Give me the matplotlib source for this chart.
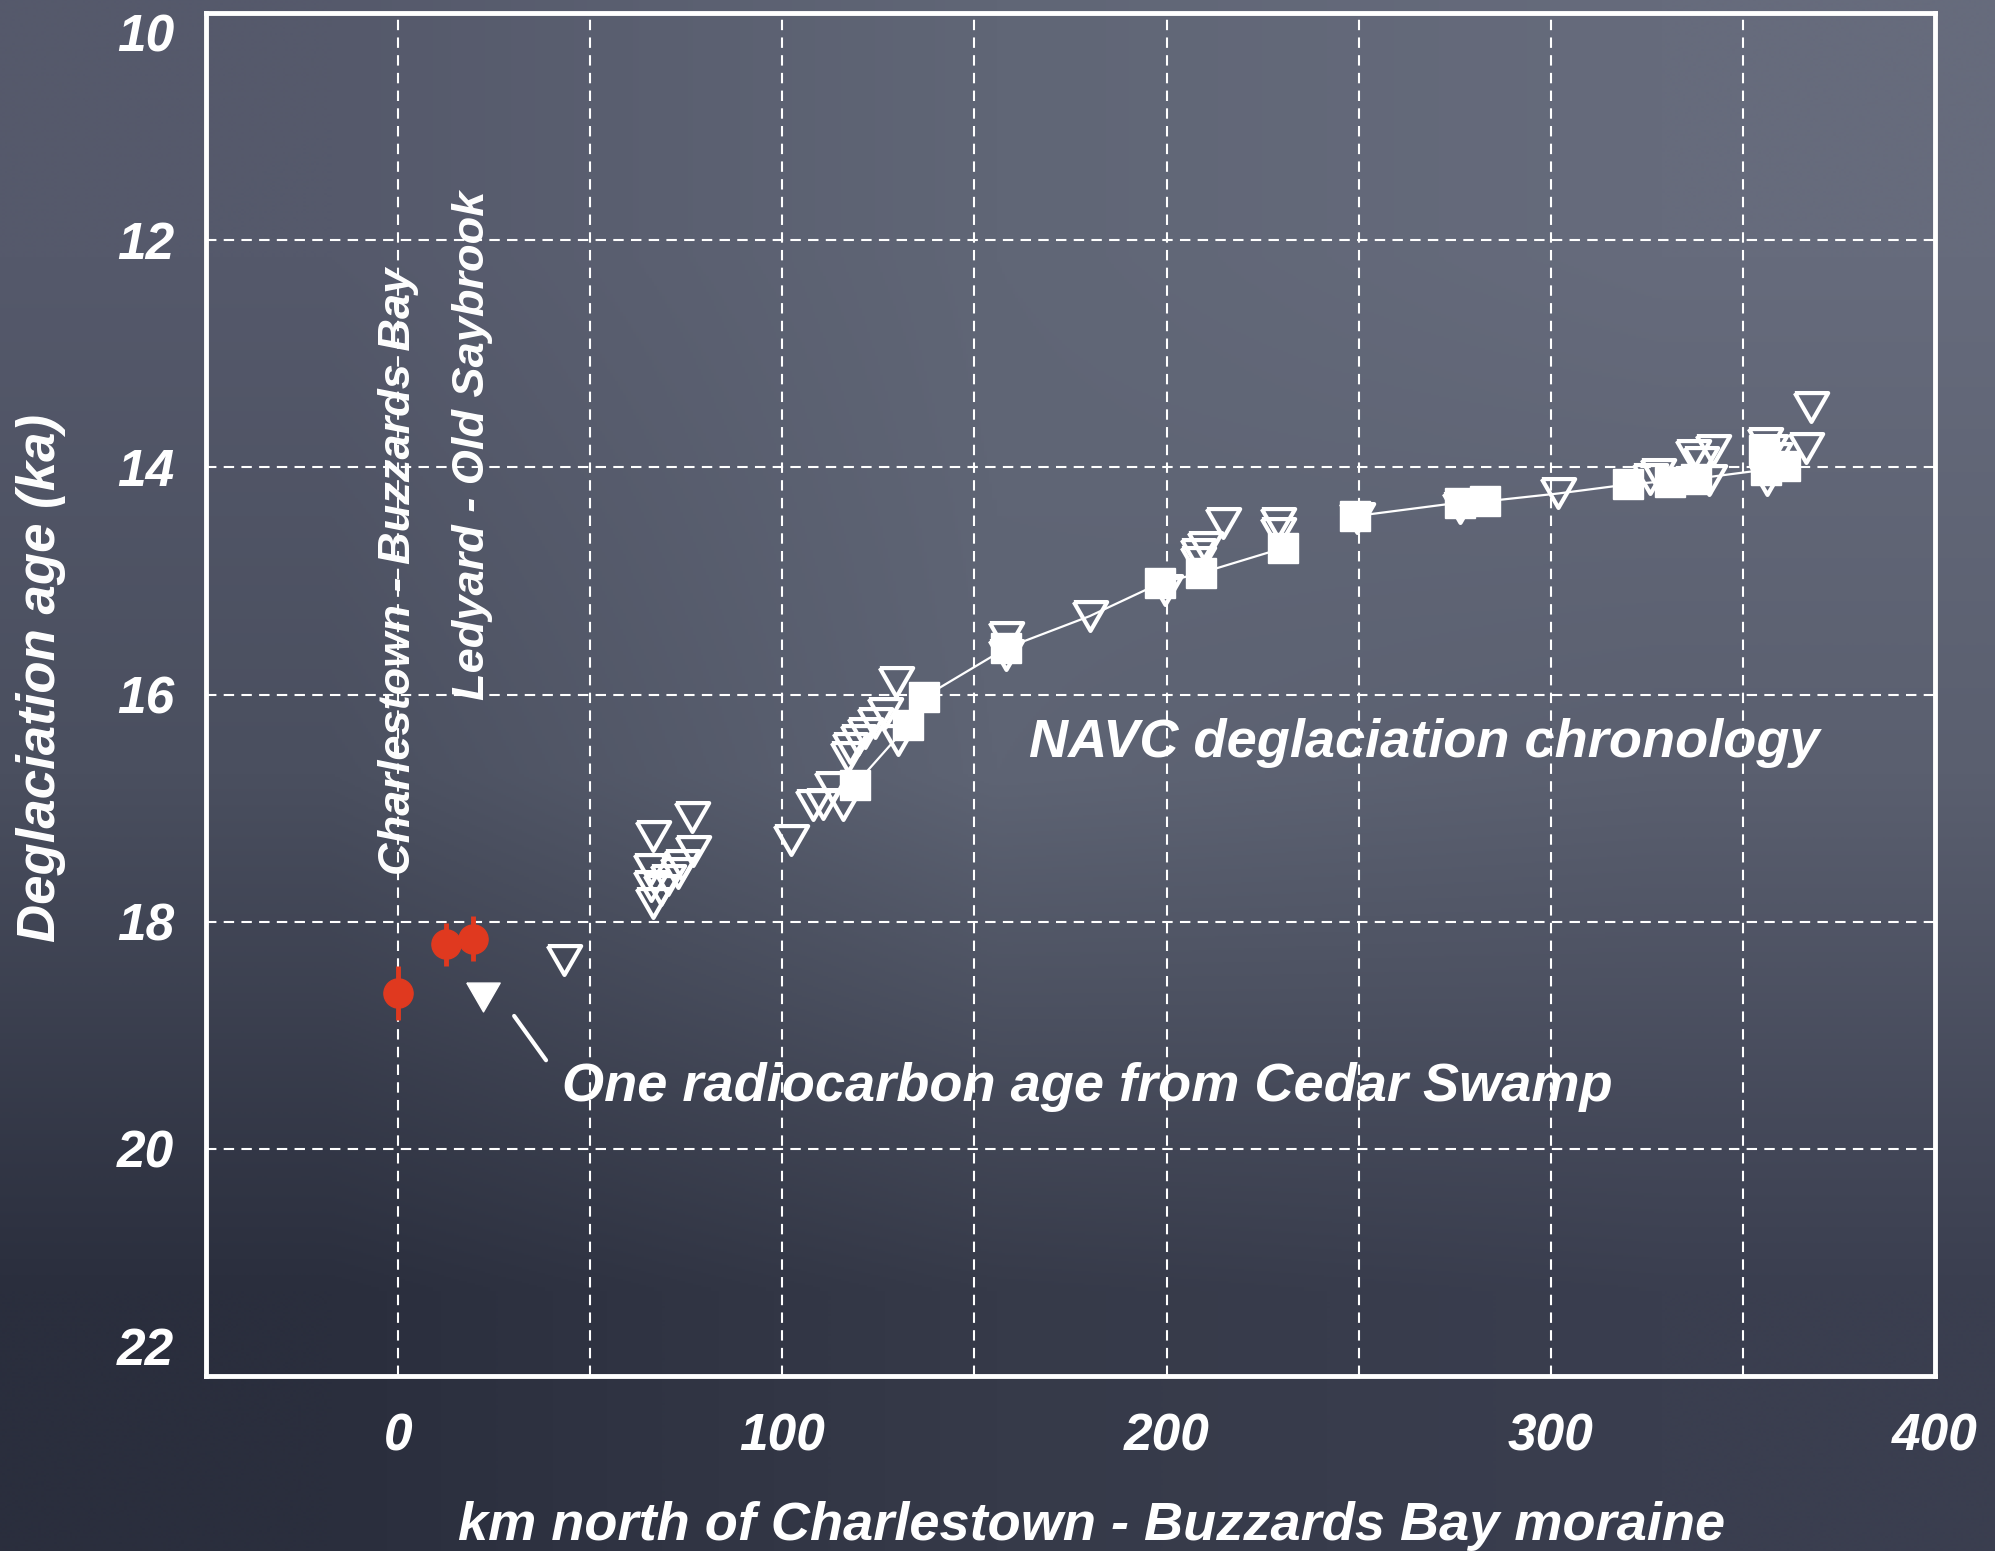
import numpy as np
import matplotlib
matplotlib.use('Agg')
import matplotlib.pyplot as plt
from matplotlib.ticker import MultipleLocator, FuncFormatter

# ---------------- data ----------------
moraine_km = [0.0, 12.5, 19.6]
moraine_age = [18.63, 18.20, 18.15]
moraine_err = [0.24, 0.19, 0.20]

cedar_km = [22.0]
cedar_age = [18.66]

varve_km = [43.1,
            66.3, 76.6, 76.7, 65.9, 70.2, 72.8, 65.9, 66.3, 68.5, 74.0,
            102.3, 108.0, 110.6, 115.8, 112.8, 117.2, 117.5, 119.7, 121.4,
            126.6, 130.0, 129.7, 124.0,
            158.3, 158.3, 180.0,
            199.6, 208.3, 210.0, 214.7, 208.3, 229.0, 229.0, 249.5, 276.4, 302.0,
            325.9, 328.0, 337.0, 342.2, 341.3, 339.0, 355.8, 356.3, 357.0, 358.0,
            366.3, 367.6]
varve_age = [18.34,
             17.25, 17.08, 17.38, 17.54, 17.63, 17.57, 17.69, 17.84, 17.72, 17.50,
             17.28, 16.97, 16.96, 16.97, 16.81, 16.55, 16.47, 16.40, 16.34,
             16.16, 16.40, 15.89, 16.25,
             15.65, 15.49, 15.31,
             15.08, 14.76, 14.70, 14.49, 14.83, 14.49, 14.58, 14.45, 14.36, 14.23,
             14.10, 14.06, 13.89, 13.85, 14.11, 13.95, 13.79, 14.11, 13.85, 13.92,
             13.83, 13.47]

navc_km = [118.8, 132.7, 137.0, 158.3, 198.3, 209.0, 230.4, 249.0, 276.4,
           282.9, 320.2, 330.9, 337.8, 356.0, 361.0, 355.5]
navc_age = [16.80, 16.27, 16.02, 15.59, 15.02, 14.93, 14.71, 14.43, 14.31,
            14.30, 14.15, 14.13, 14.10, 14.02, 13.99, 13.85]

curve_km = [118.8, 132.7, 137.0, 158.3, 180.0, 198.3, 209.0, 230.4, np.nan,
            249.0, 276.4, 282.9, 302.0, 320.2, 337.8, 356.0]
curve_age = [16.80, 16.27, 16.02, 15.59, 15.31, 15.02, 14.93, 14.71, np.nan,
             14.43, 14.31, 14.30, 14.23, 14.15, 14.10, 14.02]

x_label = "km north of Charlestown - Buzzards Bay moraine"
y_label = "Deglaciation age (ka)"
x_limits = (-50, 400)
y_limits = (22, 10)

# ---------------- style ----------------
FONT = dict(family='Liberation Sans', weight='bold', style='italic', color='white')
RED = '#e0391f'

fig = plt.figure(figsize=(19.95, 15.51), dpi=100)

# chalkboard-like background (smooth vignette)
bg = fig.add_axes([0, 0, 1, 1], zorder=-10)
grid_cols = np.array([
    [(85, 89, 107), (96, 102, 118), (102, 107, 124)],
    [(74, 79, 95), (94, 100, 116), (90, 95, 111)],
    [(42, 46, 61), (54, 58, 73), (58, 62, 79)],
]) / 255.0
bg.imshow(grid_cols, extent=[0, 1, 0, 1], aspect='auto', interpolation='bilinear')
bg.set_axis_off()

ax = fig.add_axes([206 / 1995, 1 - 1376 / 1551, (1935 - 206) / 1995, (1376 - 13) / 1551])
ax.patch.set_alpha(0)

ax.set_xlim(*x_limits)
ax.set_ylim(*y_limits)

ax.xaxis.set_major_locator(MultipleLocator(50))
ax.xaxis.set_major_formatter(FuncFormatter(lambda v, p: f"{int(round(v))}" if round(v) % 100 == 0 else ""))
ax.yaxis.set_major_locator(MultipleLocator(2))
ax.yaxis.set_major_formatter(FuncFormatter(lambda v, p: f"{int(round(v))}"))

ax.grid(True, color='white', lw=1.5, ls=(0, (5, 3.5)))
ax.set_axisbelow(True)
for s in ax.spines.values():
    s.set_color('white')
    s.set_linewidth(3.5)

ax.tick_params(length=0)
ax.tick_params(axis='x', pad=26)
ax.tick_params(axis='y', pad=23)
for lab in ax.get_xticklabels() + ax.get_yticklabels():
    lab.set_fontfamily('Liberation Sans')
    lab.set_fontweight('bold')
    lab.set_fontstyle('italic')
    lab.set_fontsize(37)
    lab.set_color('white')

# triangle marker (equilateral, pointing down)
tri = [(-1, 0.866), (1, 0.866), (0, -0.866), (-1, 0.866)]

ax.plot(curve_km, curve_age, color='white', lw=1.6, zorder=3)
ax.plot(varve_km, varve_age, ls='none', marker=tri, ms=24, mfc='none', mec='white', mew=3, zorder=4)
ax.plot(navc_km, navc_age, ls='none', marker='s', ms=21, mfc='white', mec='white', zorder=5)
ax.plot(cedar_km, cedar_age, ls='none', marker=tri, ms=24, mfc='white', mec='white', mew=1, zorder=5)
ax.errorbar(moraine_km, moraine_age, yerr=moraine_err, fmt='o', color=RED, ms=21,
            elinewidth=3.5, capsize=0, zorder=6)

# annotations
ax.text(164.3, 16.43, "NAVC deglaciation chronology", fontsize=39, ha='left', va='center', **FONT)
ax.text(42.7, 19.46, "One radiocarbon age from Cedar Swamp", fontsize=39, ha='left', va='center', **FONT)
ax.annotate("", xy=(30.2, 18.83), xytext=(38.5, 19.22),
            arrowprops=dict(arrowstyle='-', color='white', lw=3, shrinkA=0, shrinkB=0))
ax.text(0, 17.59, "Charlestown - Buzzards Bay", fontsize=32.5, rotation=90, ha='center', va='bottom', **FONT)
ax.text(19.3, 16.05, "Ledyard - Old Saybrook", fontsize=32.5, rotation=90, ha='center', va='bottom', **FONT)

ax.set_xlabel(x_label, fontsize=39, **FONT)
ax.set_ylabel(y_label, fontsize=38, **FONT)
ax.xaxis.label.set_va('center')
ax.yaxis.label.set_va('center')
ax.xaxis.set_label_coords(0.512, -0.11)
ax.yaxis.set_label_coords(-0.0954, 0.512)

fig.canvas.draw()
ylabs = ax.get_yticklabels()
for lab in ylabs:
    t = lab.get_text()
    if t == '10':
        lab.set_va('top')
    elif t == '22':
        lab.set_va('bottom')

fig.savefig('out.png', dpi=100)
